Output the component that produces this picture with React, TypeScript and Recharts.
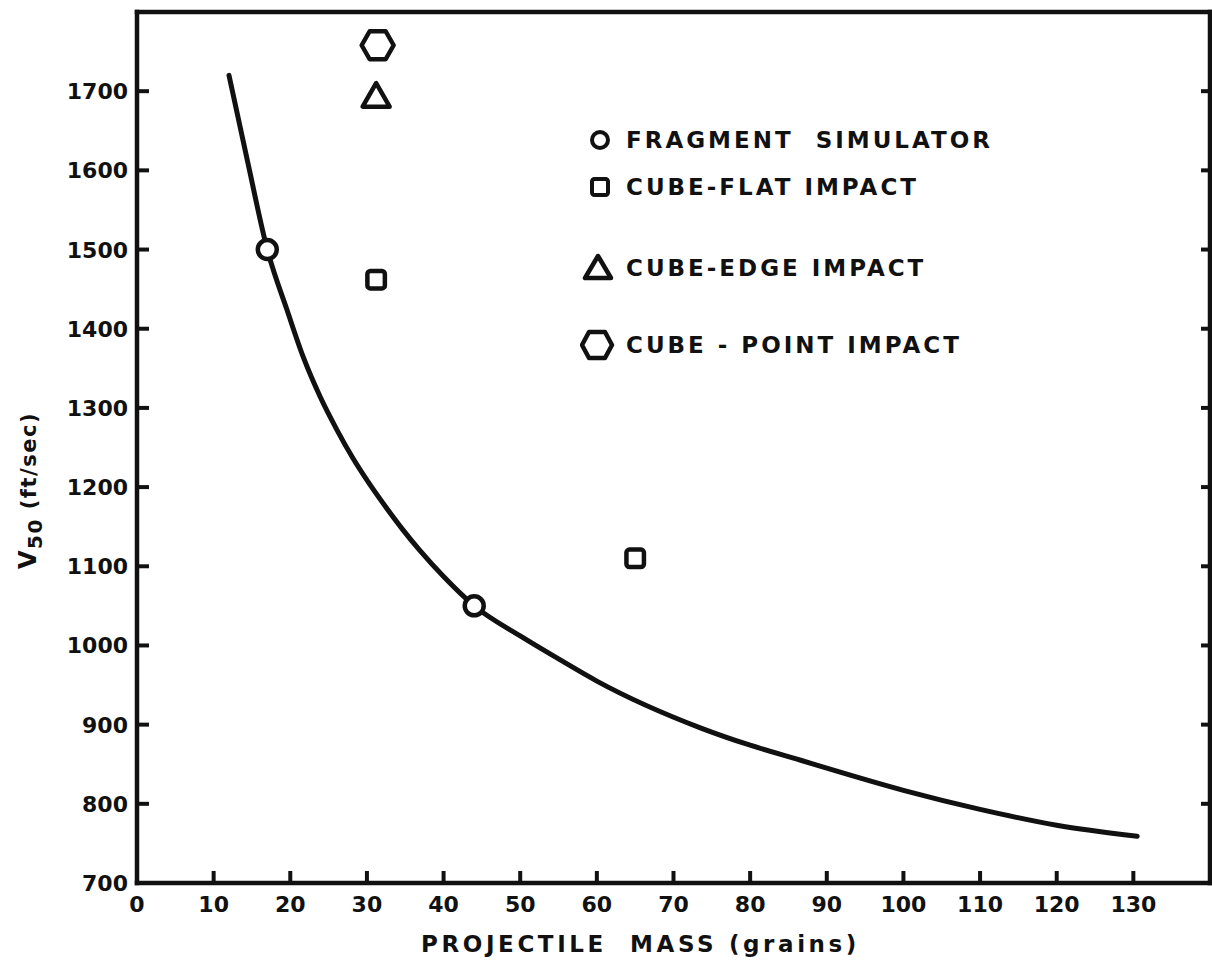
import { ComposedChart, Line, Scatter, XAxis, YAxis, Legend } from 'recharts';

const massTicks = [0, 10, 20, 30, 40, 50, 60, 70, 80, 90, 100, 110, 120, 130];
const velocityTicks = [700, 800, 900, 1000, 1100, 1200, 1300, 1400, 1500, 1600, 1700];

// fitted curve
const curveMass = [12, 14.5, 17, 19.6, 21.7, 23.9, 26.1, 28.2, 30.4, 32.6, 34.7, 36.9, 40, 44, 50, 55, 60, 73.5, 80, 86.6, 90, 100, 110, 120, 130.5];
const curveV50 = [1720, 1608, 1500, 1423, 1364, 1314, 1272, 1236, 1203, 1173, 1146, 1120, 1087, 1050, 1012, 983, 955, 896, 874, 855, 845, 817, 793, 773, 759];

const fragmentMass = [17, 44];
const fragmentV50 = [1500, 1050];
const flatMass = [31.2, 65];
const flatV50 = [1462, 1110];
const edgeMass = [31.2];
const edgeV50 = [1695];
const pointMass = [31.4];
const pointV50 = [1758];

const legendLabels = ['FRAGMENT  SIMULATOR', 'CUBE-FLAT IMPACT', 'CUBE-EDGE IMPACT', 'CUBE - POINT IMPACT'];

const toPoints = (xs: number[], ys: number[]) => xs.map((x, i) => ({ x, y: ys[i] }));

const INK = '#111';
const FONT = '"DejaVu Sans", sans-serif';
const frameLine = { stroke: INK, strokeWidth: 4.5, strokeLinecap: 'square' as const };
const tickMark = { stroke: INK, strokeWidth: 4 };

const CircleMark = ({ cx, cy }: any) => (
  <circle cx={cx} cy={cy} r={9.5} fill="#fff" stroke={INK} strokeWidth={4.5} />
);
const SquareMark = ({ cx, cy }: any) => (
  <rect x={cx - 8.75} y={cy - 8.75} width={17.5} height={17.5} rx={3} fill="#fff" stroke={INK} strokeWidth={4.5} />
);
const TriangleMark = ({ cx, cy }: any) => (
  <polygon
    points={`${cx},${cy - 12} ${cx - 13.5},${cy + 11.5} ${cx + 13.5},${cy + 11.5}`}
    fill="#fff" stroke={INK} strokeWidth={4.5} strokeLinejoin="round"
  />
);
const HexMark = ({ cx, cy }: any) => (
  <polygon
    points={`${cx - 16},${cy} ${cx - 8},${cy - 14} ${cx + 8},${cy - 14} ${cx + 16},${cy} ${cx + 8},${cy + 14} ${cx - 8},${cy + 14}`}
    fill="#fff" stroke={INK} strokeWidth={4.5} strokeLinejoin="round"
  />
);

const BottomTick = ({ x, y, payload }: any) => (
  <text x={x} y={y + 29} textAnchor="middle" fontFamily={FONT} fontWeight="bold" fontSize={22} fill={INK}>
    {payload.value}
  </text>
);
const LeftTick = ({ x, y, payload }: any) => (
  <text x={x - 9} y={y + 8} textAnchor="end" fontFamily={FONT} fontWeight="bold" fontSize={22} fill={INK}>
    {payload.value}
  </text>
);
const NoLabel = () => <g />;

const YTitle = ({ viewBox }: any) => {
  const x = viewBox.x + 36;
  const y = viewBox.y + viewBox.height / 2 + 43;
  return (
    <text transform={`translate(${x},${y}) rotate(-90)`} textAnchor="middle" fontFamily={FONT} fontWeight="bold" fontSize={24} fill={INK} letterSpacing={1.5}>
      <tspan>V</tspan>
      <tspan dy={6} fontSize={20}>50</tspan>
      <tspan dy={-6} fontSize={21}> (ft/sec)</tspan>
    </text>
  );
};

const XTitle = ({ viewBox }: any) => (
  <text
    x={viewBox.x + viewBox.width / 2 - 33}
    y={viewBox.y + 69}
    textAnchor="middle" fontFamily={FONT} fontWeight="bold" fontSize={23} fill={INK}
    letterSpacing={3.6} style={{ whiteSpace: 'pre' }}
  >
    PROJECTILE  MASS (grains)
  </text>
);

const legendIcons = [
  <circle cx={20} cy={20} r={8} fill="#fff" stroke={INK} strokeWidth={4} />,
  <rect x={12} y={12} width={16} height={16} rx={2.5} fill="#fff" stroke={INK} strokeWidth={4} />,
  <polygon points="18,8 5,30 31,30" fill="#fff" stroke={INK} strokeWidth={4.5} strokeLinejoin="round" />,
  <polygon points="2,20 9,7 25,7 32,20 25,33 9,33" fill="#fff" stroke={INK} strokeWidth={4.5} strokeLinejoin="round" />,
];
const legendGaps = [0, 7, 41, 37];

const LegendBox = () => (
  <div style={{ fontFamily: FONT, fontWeight: 'bold', fontSize: 23, letterSpacing: 3, color: INK }}>
    {legendLabels.map((label, i) => (
      <div key={label} style={{ display: 'flex', alignItems: 'center', height: 40, marginTop: legendGaps[i] }}>
        <svg width={40} height={40}>{legendIcons[i]}</svg>
        <span style={{ marginLeft: 6, whiteSpace: 'pre' }}>{label}</span>
      </div>
    ))}
  </div>
);

export default function App() {
  return (
    <div style={{ position: 'absolute', left: 0, top: 0, background: '#fff' }}>
      <ComposedChart width={1212} height={966} margin={{ top: 11, right: 1, bottom: 23, left: 0 }}>
        <XAxis
          type="number" dataKey="x" domain={[0, 140]} ticks={massTicks} interval={0} allowDataOverflow
          height={60} tickSize={-12} tickMargin={12} tickLine={tickMark} tick={<BottomTick />}
          axisLine={frameLine} label={<XTitle />}
        />
        <XAxis
          xAxisId="top" orientation="top" type="number" domain={[0, 140]} ticks={massTicks.slice(1)} interval={0}
          allowDataOverflow height={1} tickSize={-15} tickMargin={0} tickLine={tickMark} tick={<NoLabel />}
          axisLine={frameLine}
        />
        <YAxis
          type="number" dataKey="y" domain={[700, 1800]} ticks={velocityTicks} interval={0} allowDataOverflow
          width={137} tickSize={-12} tickMargin={12} tickLine={tickMark} tick={<LeftTick />}
          axisLine={frameLine} label={<YTitle />}
        />
        <YAxis
          yAxisId="right" orientation="right" type="number" domain={[700, 1800]} ticks={velocityTicks.slice(1)}
          interval={0} allowDataOverflow width={1} tickSize={-9} tickMargin={0} tickLine={tickMark} tick={<NoLabel />}
          axisLine={frameLine}
        />
        <Legend
          layout="vertical" align="center" verticalAlign="middle"
          wrapperStyle={{ position: 'absolute', left: 580, top: 120, width: 'auto' }}
          content={<LegendBox />}
        />
        <Line
          data={toPoints(curveMass, curveV50)} dataKey="y" type="monotone" stroke={INK} strokeWidth={5}
          strokeLinecap="round" dot={false} activeDot={false} legendType="none" isAnimationActive={false}
        />
        <Scatter name="Fragment simulator" data={toPoints(fragmentMass, fragmentV50)} shape={CircleMark} isAnimationActive={false} />
        <Scatter name="Cube-flat impact" data={toPoints(flatMass, flatV50)} shape={SquareMark} isAnimationActive={false} />
        <Scatter name="Cube-edge impact" data={toPoints(edgeMass, edgeV50)} shape={TriangleMark} isAnimationActive={false} />
        <Scatter name="Cube-point impact" data={toPoints(pointMass, pointV50)} shape={HexMark} isAnimationActive={false} />
      </ComposedChart>
    </div>
  );
}
